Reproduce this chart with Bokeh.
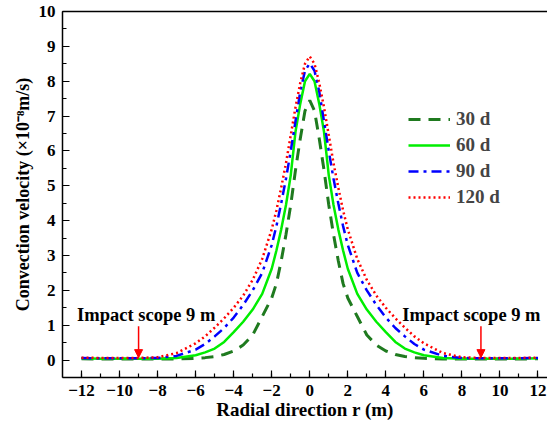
from bokeh.plotting import figure
from bokeh.models import (Range1d, Legend, LegendItem, Label, Arrow, NormalHead,
                          LinearAxis, FixedTicker, SingleIntervalTicker)
from bokeh.embed import file_html
from bokeh.resources import INLINE

# radial position r (m)
r = [-12, -11, -10, -9, -8, -7, -6, -5.5, -5, -4.5, -4, -3.5, -3, -2.5, -2, -1.75, -1.5, -1.25,
     -1, -0.75, -0.5, -0.25, 0, 0.25, 0.5, 0.75, 1, 1.25, 1.5, 1.75, 2, 2.5, 3, 3.5, 4,
     4.5, 5, 5.5, 6, 7, 8, 9, 10, 11, 12]

# convection velocity (x10^-8 m/s)
v30 = [0.04, 0.03, 0.03, 0.03, 0.03, 0.03, 0.05, 0.07, 0.1, 0.16, 0.26, 0.43, 0.72, 1.25, 1.78, 2.2, 2.85, 3.6,
       4.45, 5.45, 6.35, 7.15, 7.45, 7.15, 6.35, 5.45, 4.45, 3.6, 2.85, 2.2, 1.78, 1.25, 0.72, 0.43, 0.26,
       0.16, 0.1, 0.07, 0.05, 0.03, 0.03, 0.03, 0.03, 0.03, 0.04]
v60 = [0.05, 0.04, 0.04, 0.04, 0.04, 0.06, 0.14, 0.22, 0.33, 0.52, 0.8, 1.1, 1.45, 1.9, 2.62, 3.15, 3.75, 4.45,
       5.3, 6.55, 7.35, 8.0, 8.21, 8.0, 7.35, 6.55, 5.3, 4.45, 3.75, 3.15, 2.62, 1.9, 1.45, 1.1, 0.8,
       0.52, 0.33, 0.22, 0.14, 0.06, 0.04, 0.04, 0.04, 0.04, 0.05]
v90 = [0.06, 0.05, 0.05, 0.05, 0.06, 0.12, 0.3, 0.46, 0.68, 0.92, 1.22, 1.58, 2.0, 2.5, 3.3, 3.85, 4.5, 5.2,
       6.0, 6.85, 7.7, 8.3, 8.51, 8.3, 7.7, 6.85, 6.0, 5.2, 4.5, 3.85, 3.3, 2.5, 2.0, 1.58, 1.22,
       0.92, 0.68, 0.46, 0.3, 0.12, 0.06, 0.05, 0.05, 0.05, 0.06]
v120 = [0.07, 0.06, 0.06, 0.06, 0.08, 0.2, 0.48, 0.68, 0.93, 1.2, 1.5, 1.85, 2.3, 2.9, 3.75, 4.3, 4.95, 5.65,
        6.45, 7.25, 7.95, 8.5, 8.71, 8.5, 7.95, 7.25, 6.45, 5.65, 4.95, 4.3, 3.75, 2.9, 2.3, 1.85, 1.5,
        1.2, 0.93, 0.68, 0.48, 0.2, 0.08, 0.06, 0.06, 0.06, 0.07]

labels = ["30 d", "60 d", "90 d", "120 d"]
x_ticks = [-12, -10, -8, -6, -4, -2, 0, 2, 4, 6, 8, 10, 12]
scope = [-9, 9]
scope_text = "Impact scope 9 m"

FONT = "Liberation Serif"

p = figure(width=547, height=427, output_backend="svg", toolbar_location=None,
           x_range=Range1d(-13, 12.5), y_range=Range1d(-0.5, 10),
           min_border_left=62, min_border_right=0, min_border_top=11, min_border_bottom=50)
p.outline_line_color = None
p.grid.visible = False
p.background_fill_color = "white"
p.border_fill_color = "white"

r30 = p.line(r, v30, line_color="#1f7a1f", line_width=3, line_dash="12 8")
r60 = p.line(r, v60, line_color="#00ee00", line_width=2.5)
r90 = p.line(r, v90, line_color="#0000ff", line_width=2.5, line_dash="10 5 3 5")
r120 = p.line(r, v120, line_color="#ff0000", line_width=2.5, line_dash="2 3")

for ax in (p.xaxis[0], p.yaxis[0]):
    ax.axis_line_width = 1.5
    ax.major_tick_in = 7
    ax.major_tick_out = 0
    ax.minor_tick_in = 4
    ax.minor_tick_out = 0
    ax.major_tick_line_width = 1.2
    ax.minor_tick_line_width = 1.2
    ax.major_label_text_font = FONT
    ax.major_label_text_font_style = "bold"
    ax.major_label_text_font_size = "17px"
    ax.major_label_text_color = "black"
    ax.axis_label_text_font = FONT
    ax.axis_label_text_font_style = "bold"
    ax.axis_label_text_color = "black"
    ax.major_label_standoff = 7

p.xaxis[0].ticker = FixedTicker(ticks=x_ticks, minor_ticks=list(range(-12, 13)))
p.yaxis[0].ticker = SingleIntervalTicker(interval=1, num_minor_ticks=2)
p.xaxis[0].axis_label = "Radial direction r (m)"
p.xaxis[0].axis_label_text_font_size = "19px"
p.xaxis[0].axis_label_standoff = 0
p.yaxis[0].axis_label = "Convection velocity (\u00d710\u207b\u2078m/s)"
p.yaxis[0].axis_label_text_font_size = "18px"
p.yaxis[0].axis_label_standoff = 3

top = LinearAxis(ticker=FixedTicker(ticks=[]), major_tick_in=0, major_tick_out=0,
                 minor_tick_in=0, minor_tick_out=0, axis_line_width=1.5)
p.add_layout(top, "above")
p.min_border_top = 11

legend = Legend(items=[LegendItem(label=l, renderers=[rr]) for l, rr in zip(labels, [r30, r60, r90, r120])],
                location=(346, 169), border_line_color=None, background_fill_alpha=0,
                label_text_font=FONT, label_text_font_style="bold", label_text_font_size="19px",
                glyph_width=42, glyph_height=20, label_height=20, spacing=4, padding=0, margin=0,
                label_standoff=6)
p.add_layout(legend)

for xs, xt in zip(scope, [-8.6, 8.5]):
    p.add_layout(Label(x=xt, y=1.28, text=scope_text, text_align="center", text_baseline="middle",
                       text_font=FONT, text_font_style="bold", text_font_size="18.5px", text_color="black"))
    p.add_layout(Arrow(end=NormalHead(size=8, line_color="red", fill_color="red", line_width=1),
                       x_start=xs, y_start=0.97, x_end=xs, y_end=0.07,
                       line_color="red", line_width=1.5))

open("out.html", "w").write(file_html(p, INLINE))
